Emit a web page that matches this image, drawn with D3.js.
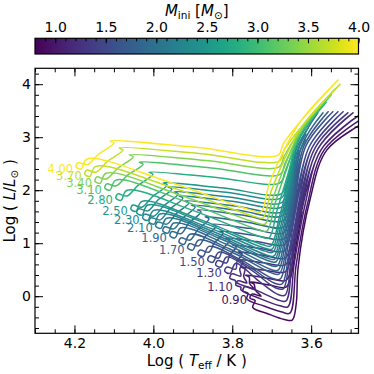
<!DOCTYPE html>
<html>
<head>
<meta charset="utf-8">
<script src="https://cdn.jsdelivr.net/npm/d3@7"></script>
<style>
  body { margin: 0; background: #fff; }
  svg { display: block; font-family: "DejaVu Sans", sans-serif; }
</style>
</head>
<body>
<svg id="chart" width="374" height="374"></svg>
<script>
// initial masses of the tracks, and the ones that get a text label
const masses = [0.9, 1.0, 1.1, 1.2, 1.3, 1.4, 1.5, 1.6, 1.7, 1.8, 1.9, 2.0, 2.1, 2.2, 2.3, 2.4, 2.5, 2.8, 3.1, 3.4, 3.7, 4.0];
const labelled = [0.9, 1.1, 1.3, 1.5, 1.7, 1.9, 2.1, 2.3, 2.5, 2.8, 3.1, 3.4, 3.7, 4.0];

const xTicks = [4.2, 4.0, 3.8, 3.6];
const yTicks = [0, 1, 2, 3, 4];
const cbTicks = [1.0, 1.5, 2.0, 2.5, 3.0, 3.5, 4.0];

// tracks as [log Teff, log L/Lsun]
const t090 = [[3.456,3.31],[3.560,2.76],[3.603,1.82],[3.633,0.55],[3.638,-0.15],[3.648,-0.45],[3.668,-0.44],[3.710,-0.33],[3.748,-0.21],[3.742,-0.08],[3.755,-0.04],[3.750,0.04],[3.727,0.00],[3.741,0.11],[3.745,0.23],[3.755,0.27],[3.705,0.21],[3.664,0.17],[3.651,0.38],[3.638,0.97],[3.623,1.59]];
const t100 = [[3.469,3.36],[3.567,2.76],[3.610,1.72],[3.638,0.59],[3.654,-0.32],[3.674,-0.30],[3.718,-0.19],[3.763,-0.05],[3.760,0.06],[3.773,0.10],[3.768,0.18],[3.745,0.14],[3.756,0.24],[3.757,0.36],[3.767,0.40],[3.711,0.34],[3.664,0.30],[3.651,0.51],[3.641,1.16],[3.628,1.82]];
const t110 = [[3.481,3.40],[3.575,2.76],[3.615,1.74],[3.643,0.61],[3.659,-0.20],[3.679,-0.18],[3.728,-0.05],[3.778,0.12],[3.778,0.17],[3.791,0.21],[3.786,0.29],[3.763,0.25],[3.771,0.37],[3.768,0.51],[3.778,0.55],[3.717,0.49],[3.666,0.46],[3.653,0.67],[3.575,2.76],[3.481,3.40]];
const t120 = [[3.494,3.46],[3.583,2.78],[3.621,1.76],[3.648,0.65],[3.664,-0.09],[3.684,-0.07],[3.735,0.10],[3.790,0.26],[3.793,0.30],[3.806,0.34],[3.801,0.42],[3.778,0.38],[3.781,0.51],[3.773,0.65],[3.783,0.69],[3.720,0.63],[3.666,0.59],[3.653,0.80],[3.583,2.78],[3.494,3.46]];
const t130 = [[3.507,3.46],[3.590,2.80],[3.626,1.76],[3.651,0.70],[3.666,0.02],[3.686,0.04],[3.735,0.30],[3.791,0.62],[3.806,0.43],[3.819,0.47],[3.814,0.55],[3.791,0.51],[3.788,0.65],[3.775,0.80],[3.785,0.84],[3.721,0.77],[3.666,0.72],[3.653,0.93],[3.590,2.80],[3.507,3.46]];
const t140 = [[3.519,3.48],[3.598,2.80],[3.631,1.78],[3.654,0.78],[3.671,0.14],[3.691,0.16],[3.753,0.50],[3.814,0.74],[3.829,0.55],[3.842,0.59],[3.837,0.67],[3.814,0.63],[3.807,0.77],[3.790,0.93],[3.800,0.97],[3.730,0.90],[3.669,0.85],[3.656,1.06],[3.598,2.80],[3.519,3.48]];
const t150 = [[3.532,3.48],[3.605,2.82],[3.636,1.80],[3.656,0.85],[3.674,0.23],[3.694,0.25],[3.764,0.59],[3.834,0.83],[3.849,0.64],[3.862,0.68],[3.857,0.76],[3.834,0.72],[3.825,0.88],[3.806,1.06],[3.816,1.10],[3.738,1.03],[3.669,0.97],[3.656,1.18],[3.605,2.82],[3.532,3.48]];
const t160 = [[3.545,3.48],[3.613,2.84],[3.641,1.80],[3.659,0.93],[3.679,0.32],[3.699,0.34],[3.779,0.69],[3.859,0.94],[3.874,0.75],[3.887,0.79],[3.882,0.87],[3.859,0.83],[3.846,1.00],[3.823,1.19],[3.833,1.23],[3.746,1.15],[3.669,1.08],[3.656,1.29],[3.613,2.84],[3.545,3.48]];
const t170 = [[3.557,3.48],[3.618,2.84],[3.643,1.82],[3.661,1.00],[3.681,0.42],[3.701,0.44],[3.793,0.80],[3.885,1.06],[3.900,0.87],[3.913,0.91],[3.908,0.99],[3.885,0.95],[3.868,1.13],[3.841,1.32],[3.851,1.36],[3.756,1.28],[3.671,1.19],[3.658,1.40],[3.618,2.84],[3.557,3.48]];
const t180 = [[3.570,3.46],[3.623,2.85],[3.646,1.83],[3.664,1.06],[3.684,0.49],[3.704,0.51],[3.806,0.89],[3.907,1.17],[3.922,0.98],[3.935,1.02],[3.930,1.10],[3.907,1.06],[3.888,1.25],[3.859,1.46],[3.869,1.50],[3.765,1.40],[3.671,1.30],[3.658,1.51],[3.623,2.85],[3.570,3.46]];
const t190 = [[3.583,3.46],[3.628,2.87],[3.648,1.85],[3.666,1.14],[3.686,0.57],[3.706,0.59],[3.818,0.99],[3.930,1.29],[3.945,1.10],[3.958,1.14],[3.953,1.22],[3.930,1.18],[3.910,1.38],[3.879,1.59],[3.889,1.63],[3.775,1.53],[3.671,1.42],[3.658,1.63],[3.628,2.87],[3.583,3.46]];
const t200 = [[3.613,2.95],[3.636,2.61],[3.648,1.91],[3.669,1.19],[3.689,0.65],[3.709,0.67],[3.829,1.08],[3.948,1.38],[3.963,1.19],[3.976,1.23],[3.971,1.31],[3.948,1.27],[3.926,1.47],[3.894,1.68],[3.904,1.72],[3.784,1.62],[3.674,1.51],[3.661,1.72],[3.636,2.61],[3.613,2.95]];
const t210 = [[3.613,3.06],[3.638,2.68],[3.651,1.97],[3.671,1.25],[3.692,0.70],[3.712,0.72],[3.839,1.15],[3.966,1.47],[3.981,1.28],[3.994,1.32],[3.989,1.40],[3.966,1.36],[3.943,1.55],[3.910,1.76],[3.920,1.80],[3.792,1.70],[3.674,1.59],[3.661,1.80],[3.638,2.68],[3.613,3.06]];
const t220 = [[3.608,3.17],[3.638,2.76],[3.651,2.02],[3.674,1.30],[3.694,0.76],[3.714,0.78],[3.849,1.22],[3.983,1.55],[3.998,1.36],[4.011,1.40],[4.006,1.48],[3.983,1.44],[3.959,1.64],[3.925,1.85],[3.935,1.89],[3.800,1.79],[3.674,1.68],[3.661,1.89],[3.638,2.76],[3.608,3.17]];
const t230 = [[3.603,3.29],[3.638,2.84],[3.654,2.08],[3.676,1.36],[3.697,0.83],[3.717,0.85],[3.858,1.29],[3.999,1.62],[4.014,1.43],[4.027,1.47],[4.022,1.55],[3.999,1.51],[3.973,1.71],[3.937,1.93],[3.947,1.97],[3.807,1.87],[3.676,1.76],[3.663,1.97],[3.638,2.84],[3.603,3.29]];
const t240 = [[3.595,3.40],[3.636,2.89],[3.654,2.14],[3.679,1.42],[3.699,0.89],[3.719,0.91],[3.867,1.37],[4.014,1.72],[4.029,1.53],[4.042,1.57],[4.037,1.65],[4.014,1.61],[3.989,1.81],[3.953,2.02],[3.963,2.06],[3.815,1.96],[3.676,1.85],[3.663,2.06],[3.636,2.89],[3.595,3.40]];
const t250 = [[3.583,3.53],[3.633,2.95],[3.656,2.19],[3.681,1.48],[3.702,0.95],[3.722,0.97],[3.876,1.43],[4.029,1.79],[4.044,1.60],[4.057,1.64],[4.052,1.72],[4.029,1.68],[4.002,1.88],[3.965,2.10],[3.975,2.14],[3.821,2.04],[3.676,1.93],[3.663,2.14],[3.633,2.95],[3.583,3.53]];
const t280 = [[3.562,3.66],[3.631,2.98],[3.659,2.30],[3.686,1.63],[3.707,1.10],[3.727,1.12],[3.897,1.61],[4.067,2.00],[4.082,1.81],[4.095,1.85],[4.090,1.93],[4.067,1.89],[4.039,2.09],[4.001,2.30],[4.011,2.34],[3.840,2.24],[3.679,2.14],[3.666,2.35],[3.631,2.98],[3.562,3.66]];
const t310 = [[3.549,3.80],[3.628,3.06],[3.661,2.42],[3.692,1.74],[3.712,1.23],[3.732,1.25],[3.914,1.77],[4.095,2.19],[4.110,2.00],[4.123,2.04],[4.118,2.12],[4.095,2.08],[4.066,2.28],[4.026,2.49],[4.036,2.53],[3.853,2.42],[3.679,2.30],[3.666,2.51],[3.628,3.06],[3.549,3.80]];
const t340 = [[3.539,3.91],[3.626,3.14],[3.664,2.51],[3.697,1.85],[3.717,1.36],[3.737,1.38],[3.929,1.90],[4.120,2.32],[4.135,2.13],[4.148,2.17],[4.143,2.25],[4.120,2.21],[4.091,2.41],[4.051,2.63],[4.061,2.67],[3.866,2.56],[3.681,2.44],[3.668,2.65],[3.626,3.14],[3.539,3.91]];
const t370 = [[3.527,4.00],[3.623,3.21],[3.666,2.61],[3.702,1.97],[3.722,1.48],[3.742,1.50],[3.944,2.03],[4.146,2.45],[4.161,2.26],[4.174,2.30],[4.169,2.38],[4.146,2.34],[4.117,2.54],[4.077,2.76],[4.087,2.80],[3.879,2.69],[3.681,2.55],[3.668,2.76],[3.623,3.21],[3.527,4.00]];
const t400 = [[3.532,4.08],[3.628,3.29],[3.671,2.72],[3.707,2.10],[3.727,1.59],[3.747,1.61],[3.958,2.15],[4.168,2.59],[4.183,2.40],[4.196,2.44],[4.191,2.52],[4.168,2.48],[4.139,2.68],[4.100,2.89],[4.110,2.93],[3.892,2.81],[3.684,2.66],[3.671,2.87],[3.628,3.29],[3.532,4.08]];

const tracks = [t090, t100, t110, t120, t130, t140, t150, t160, t170, t180, t190,
                t200, t210, t220, t230, t240, t250, t280, t310, t340, t370, t400];

// plot box
const boxL = 35, boxR = 358.5, boxT = 68.3, boxB = 333.3;

const svg = d3.select("#chart");

const x = d3.scaleLinear().domain([4.3, 3.48]).range([boxL, boxR]);
const y = d3.scaleLinear().domain([-0.7, 4.3]).range([boxB, boxT]);
const color = d3.scaleSequential(d3.interpolateViridis).domain([0.8, 4.0]);

const defs = svg.append("defs");
defs.append("clipPath").attr("id", "clip")
  .append("rect")
  .attr("x", boxL).attr("y", boxT)
  .attr("width", boxR - boxL).attr("height", boxB - boxT);

// the tracks, low mass first so the yellow ones sit on top
const line = d3.line()
  .x(d => x(d[0]))
  .y(d => y(d[1]))
  .curve(d3.curveCatmullRom.alpha(0.5));

const plot = svg.append("g").attr("clip-path", "url(#clip)");
tracks.forEach((tr, i) => {
  plot.append("path")
    .attr("d", line(tr))
    .attr("fill", "none")
    .attr("stroke", color(masses[i]))
    .attr("stroke-width", 1.5)
    .attr("stroke-linejoin", "round")
    .attr("stroke-linecap", "round");
});

// mass labels at the hot end of each track
masses.forEach((m, i) => {
  if (!labelled.includes(m)) return;
  const p = d3.greatest(tracks[i], d => d[0]);
  svg.append("text")
    .attr("x", x(p[0]) - 3)
    .attr("y", y(p[1]) + 6)
    .attr("text-anchor", "end")
    .attr("font-size", 11.5)
    .attr("fill", color(m))
    .text(d3.format(".2f")(m));
});

// axes, ticks pointing in on all four sides
function axis(gen, tr, vals, len, fmt, pad) {
  const g = svg.append("g")
    .attr("transform", tr)
    .call(gen.tickValues(vals).tickSize(-len).tickPadding(pad || 0).tickFormat(fmt || ""));
  g.select(".domain").remove();
  g.attr("font-size", 14).attr("font-family", "DejaVu Sans, sans-serif");
  g.selectAll("line").attr("stroke", "#000");
  g.selectAll("text").attr("fill", "#000");
  return g;
}

const xMinor = d3.range(70, 87).map(k => k / 20);
const yMinor = d3.range(-3, 22).map(k => k / 5);

axis(d3.axisBottom(x), `translate(0,${boxB})`, xMinor, 4);
axis(d3.axisTop(x), `translate(0,${boxT})`, xMinor, 4);
axis(d3.axisLeft(y), `translate(${boxL},0)`, yMinor, 4);
axis(d3.axisRight(y), `translate(${boxR},0)`, yMinor, 4);

axis(d3.axisBottom(x), `translate(0,${boxB})`, xTicks, 8, d3.format(".1f"), 5);
axis(d3.axisTop(x), `translate(0,${boxT})`, xTicks, 8);
axis(d3.axisLeft(y), `translate(${boxL},0)`, yTicks, 8, d3.format("d"), 4);
axis(d3.axisRight(y), `translate(${boxR},0)`, yTicks, 8);

svg.append("rect")
  .attr("x", boxL).attr("y", boxT)
  .attr("width", boxR - boxL).attr("height", boxB - boxT)
  .attr("fill", "none").attr("stroke", "#000").attr("stroke-width", 1.2);

// axis titles
const xt = svg.append("text")
  .attr("x", (boxL + boxR) / 2).attr("y", 366)
  .attr("text-anchor", "middle").attr("font-size", 15);
xt.append("tspan").text("Log ( ");
xt.append("tspan").attr("font-style", "italic").text("T");
xt.append("tspan").attr("font-size", 10.5).attr("dy", 3).text("eff");
xt.append("tspan").attr("dy", -3).text(" / K )");

const yt = svg.append("text")
  .attr("transform", `translate(15,${(boxT + boxB) / 2}) rotate(-90)`)
  .attr("text-anchor", "middle").attr("font-size", 15);
yt.append("tspan").text("Log ( ");
yt.append("tspan").attr("font-style", "italic").text("L");
yt.append("tspan").text("/");
yt.append("tspan").attr("font-style", "italic").text("L");
yt.append("tspan").attr("font-size", 10.5).attr("dy", 3).text("\u2299");
yt.append("tspan").attr("dy", -3).text(" )");

// colour bar
const cb = d3.scaleLinear().domain([0.8, 4.0]).range([boxL, boxR]);
const cbTop = 38.3, cbH = 15.7;

const grad = defs.append("linearGradient").attr("id", "vir")
  .attr("x1", "0%").attr("x2", "100%").attr("y1", "0%").attr("y2", "0%");
d3.range(0, 41).forEach(k => {
  grad.append("stop")
    .attr("offset", (k / 40 * 100) + "%")
    .attr("stop-color", color(cb.invert(boxL + (boxR - boxL) * k / 40)));
});

svg.append("rect")
  .attr("x", boxL).attr("y", cbTop)
  .attr("width", boxR - boxL).attr("height", cbH)
  .attr("fill", "url(#vir)");

const cbMinor = d3.range(9, 41).map(k => k / 10);
axis(d3.axisTop(cb), `translate(0,${cbTop})`, cbMinor, 3);
axis(d3.axisTop(cb), `translate(0,${cbTop})`, cbTicks, 5, d3.format(".1f"), 6);

svg.append("rect")
  .attr("x", boxL).attr("y", cbTop)
  .attr("width", boxR - boxL).attr("height", cbH)
  .attr("fill", "none").attr("stroke", "#000").attr("stroke-width", 1.2);

const ct = svg.append("text")
  .attr("x", (boxL + boxR) / 2).attr("y", 16)
  .attr("text-anchor", "middle").attr("font-size", 15);
ct.append("tspan").attr("font-style", "italic").text("M");
ct.append("tspan").attr("font-size", 10.5).attr("dy", 3).text("ini");
ct.append("tspan").attr("dy", -3).text(" [");
ct.append("tspan").attr("font-style", "italic").text("M");
ct.append("tspan").attr("font-size", 10.5).attr("dy", 3).text("\u2299");
ct.append("tspan").attr("dy", -3).text("]");
</script>
</body>
</html>
